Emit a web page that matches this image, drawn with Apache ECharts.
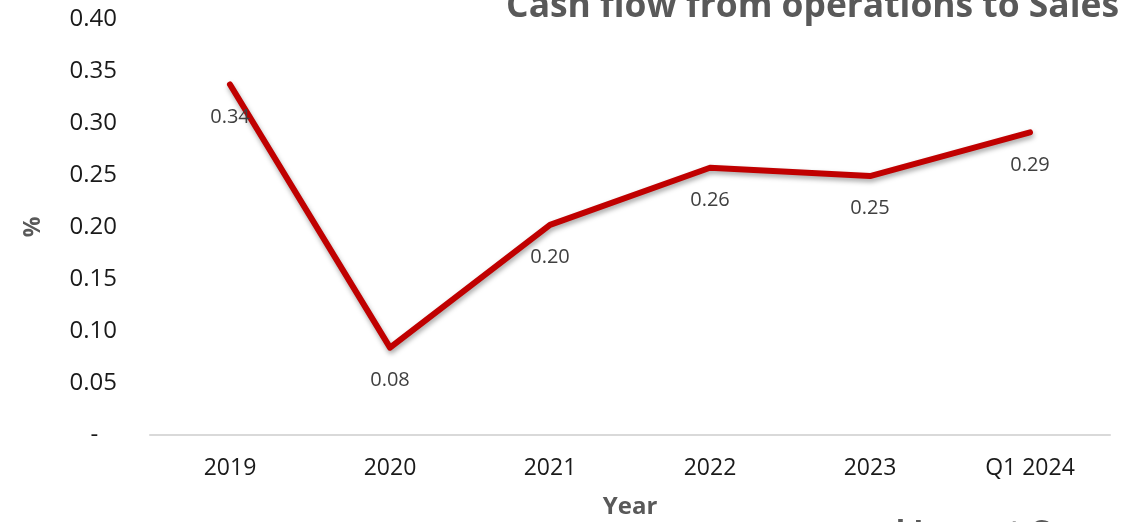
<!DOCTYPE html>
<html>
<head>
<meta charset="utf-8">
<script src="https://cdn.jsdelivr.net/npm/echarts@6/dist/echarts.min.js"></script>
<style>
  html, body { margin: 0; padding: 0; background: #fff; }
  #chart { width: 1127px; height: 522px; }
</style>
</head>
<body>
<div id="chart"></div>
<script>
// Cash flow from operations as a share of sales, by year
const years = ['2019', '2020', '2021', '2022', '2023', 'Q1 2024'];
const cfoToSales = [0.337, 0.084, 0.202, 0.257, 0.249, 0.291];
const yTicks = { min: 0, max: 0.4, step: 0.05 };

const chart = echarts.init(document.getElementById('chart'));

chart.setOption({
  animation: false,
  backgroundColor: '#ffffff',
  title: {
    text: 'Cash flow from operations to Sales',
    right: 3,
    top: -16,
    textStyle: {
      fontFamily: 'Open Sans',
      fontWeight: 'bold',
      fontSize: 35.4,
      color: '#595959'
    }
  },
  grid: { left: 150, right: 17, top: 19, bottom: 87, outerBoundsMode: 'none', containLabel: false },
  xAxis: {
    type: 'category',
    data: years,
    name: 'Year',
    nameLocation: 'middle',
    nameGap: 60,
    nameTextStyle: {
      fontFamily: 'Open Sans',
      fontWeight: 'bold',
      fontSize: 24,
      color: '#595959'
    },
    axisLine: { lineStyle: { color: '#d9d9d9', width: 2 } },
    axisTick: { show: false },
    axisLabel: {
      margin: 22,
      fontFamily: 'Open Sans',
      fontSize: 23,
      color: '#1a1a1a'
    }
  },
  yAxis: {
    type: 'value',
    min: yTicks.min,
    max: yTicks.max,
    interval: yTicks.step,
    name: '%',
    nameLocation: 'middle',
    nameGap: 105,
    nameRotate: 90,
    nameTextStyle: {
      fontFamily: 'Open Sans',
      fontWeight: 'bold',
      fontSize: 23,
      color: '#595959'
    },
    axisLine: { show: false },
    axisTick: { show: false },
    splitLine: { show: false },
    axisLabel: {
      margin: 33,
      fontFamily: 'Open Sans',
      fontSize: 24,
      color: '#1a1a1a',
      formatter: v => (v === 0 ? '-   ' : v.toFixed(2))
    }
  },
  series: [{
    type: 'line',
    data: cfoToSales,
    symbol: 'circle',
    symbolSize: 1,
    itemStyle: { color: '#c00000' },
    lineStyle: {
      color: '#c00000',
      width: 6,
      cap: 'round',
      join: 'round',
      shadowColor: 'rgba(0,0,0,0.35)',
      shadowBlur: 5,
      shadowOffsetX: 1,
      shadowOffsetY: 3
    },
    label: {
      show: true,
      position: 'bottom',
      distance: 22,
      fontFamily: 'Open Sans',
      fontSize: 20,
      color: '#404040',
      formatter: p => p.value.toFixed(2)
    }
  }],
  graphic: [{
    type: 'text',
    left: 877,
    top: 518,
    style: {
      text: 'al Impact Co',
      fontFamily: 'Open Sans',
      fontWeight: 'bold',
      fontSize: 31,
      fill: '#595959'
    }
  }]
});
</script>
</body>
</html>
